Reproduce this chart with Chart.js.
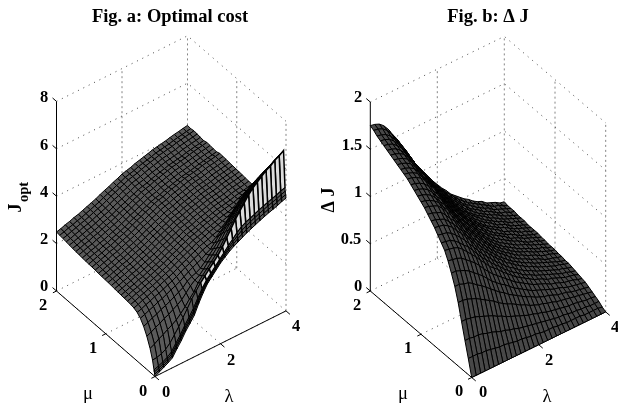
<!DOCTYPE html>
<html><head><meta charset="utf-8">
<style>html,body{margin:0;padding:0;background:#fff;overflow:hidden;width:618px;height:407px}canvas{position:absolute;top:0}</style>
<script src="https://cdn.jsdelivr.net/npm/chart.js@4"></script></head>
<body><canvas id="a" width="340" height="407" style="left:0"></canvas><canvas id="b" width="336" height="407" style="left:320px"></canvas>
<script>
const lambdaTicks=[0,2,4];
const muTicks=[0,1,2];
const zTicksA=[0,2,4,6,8];
const zTicksB=[0,0.5,1,1.5,2];
const lambdaGrid=[0,.133,.267,.4,.533,.667,.8,.933,1.067,1.2,1.333,1.467,1.6,1.733,1.867,2,2.133,2.267,2.4,2.533,2.667,2.8,2.933,3.067,3.2,3.333,3.467,3.6,3.733,3.867,4];
const muGridA=[0,.007,.013,.02,.05,.1,.166,.231,.297,.362,.428,.493,.559,.624,.69,.755,.821,.886,.952,1.017,1.083,1.148,1.214,1.279,1.345,1.41,1.476,1.541,1.607,1.672,1.738,1.803,1.869,1.934,2];
const muGridB=[0,.067,.133,.2,.267,.333,.4,.467,.533,.6,.667,.733,.8,.867,.933,1,1.067,1.133,1.2,1.267,1.333,1.4,1.467,1.533,1.6,1.667,1.733,1.8,1.867,1.933,2];
const J_opt=[
[0,.1,.2,.3,.42,.7,.95,1.25,1.5,1.75,2.15,2.5,2.8,3.0,3.2,3.4,3.55,3.7,3.82,3.92,4.02,4.12,4.2,4.28,4.36,4.43,4.5,4.56,4.62,4.7,4.76],
[.08,.17,.26,.36,.49,.77,1.02,1.32,1.57,1.83,2.21,2.55,2.83,3.03,3.23,3.43,3.6,3.77,3.91,4.04,4.15,4.25,4.33,4.41,4.49,4.56,4.63,4.69,4.75,4.83,4.89],
[.16,.24,.33,.43,.56,.83,1.08,1.38,1.64,1.91,2.27,2.59,2.87,3.07,3.27,3.47,3.64,3.83,4.0,4.15,4.29,4.39,4.47,4.55,4.63,4.7,4.77,4.83,4.89,4.97,5.03],
[.24,.31,.39,.49,.63,.9,1.15,1.45,1.72,1.99,2.33,2.64,2.9,3.1,3.3,3.5,3.69,3.9,4.08,4.27,4.42,4.52,4.6,4.68,4.76,4.83,4.9,4.96,5.02,5.1,5.16],
[.6,.62,.68,.78,.95,1.2,1.45,1.75,2.05,2.35,2.6,2.85,3.05,3.25,3.45,3.65,3.9,4.2,4.5,4.8,5.05,5.3,5.55,5.75,5.9,6.05,6.2,6.3,6.45,6.55,6.68],
[1.0,1.09,1.22,1.31,1.43,1.53,1.65,1.82,2.02,2.25,2.45,2.75,2.97,3.16,3.36,3.56,3.79,4.07,4.35,4.62,4.86,5.10,5.34,5.54,5.69,5.84,6.0,6.10,6.25,6.35,6.48],
[1.4,1.48,1.59,1.67,1.78,1.86,1.97,2.08,2.2,2.4,2.6,2.75,2.85,3.03,3.24,3.44,3.64,3.89,4.15,4.39,4.61,4.84,5.06,5.26,5.42,5.57,5.73,5.84,5.98,6.09,6.21],
[1.7,1.77,1.87,1.94,2.04,2.11,2.2,2.3,2.4,2.5,2.68,2.78,2.85,2.95,3.12,3.32,3.5,3.71,3.95,4.16,4.37,4.58,4.79,4.98,5.14,5.30,5.46,5.58,5.72,5.83,5.95],
[1.92,1.99,2.07,2.14,2.23,2.29,2.38,2.47,2.55,2.64,2.75,2.86,2.96,3.05,3.13,3.25,3.35,3.54,3.74,3.93,4.12,4.31,4.52,4.70,4.87,5.03,5.19,5.32,5.45,5.56,5.68],
[2.05,2.11,2.19,2.26,2.34,2.40,2.48,2.56,2.64,2.73,2.83,2.93,3.01,3.12,3.20,3.30,3.37,3.42,3.55,3.70,3.87,4.05,4.24,4.43,4.60,4.76,4.92,5.06,5.19,5.30,5.42],
[2.12,2.18,2.26,2.32,2.40,2.46,2.54,2.62,2.69,2.77,2.87,2.97,3.05,3.15,3.23,3.33,3.39,3.45,3.53,3.59,3.66,3.79,3.97,4.15,4.32,4.49,4.65,4.80,4.93,5.04,5.16],
[2.15,2.21,2.29,2.35,2.42,2.48,2.56,2.64,2.72,2.79,2.89,2.99,3.07,3.16,3.24,3.34,3.40,3.47,3.55,3.61,3.67,3.73,3.80,3.88,4.05,4.22,4.39,4.54,4.66,4.78,4.89],
[2.17,2.23,2.31,2.36,2.44,2.50,2.58,2.65,2.73,2.81,2.90,3.0,3.08,3.17,3.25,3.35,3.40,3.46,3.54,3.60,3.66,3.72,3.77,3.81,3.87,3.97,4.12,4.28,4.40,4.51,4.63],
[2.18,2.24,2.32,2.37,2.45,2.51,2.59,2.67,2.74,2.82,2.92,3.01,3.09,3.19,3.27,3.36,3.42,3.48,3.56,3.62,3.67,3.73,3.79,3.83,3.87,3.91,3.97,4.04,4.14,4.25,4.37],
[2.19,2.25,2.32,2.38,2.46,2.51,2.59,2.67,2.74,2.82,2.92,3.01,3.09,3.18,3.26,3.36,3.41,3.47,3.55,3.60,3.66,3.72,3.78,3.81,3.85,3.89,3.95,3.99,4.02,4.06,4.10],
[2.21,2.27,2.34,2.40,2.48,2.53,2.61,2.69,2.76,2.84,2.93,3.03,3.10,3.20,3.27,3.37,3.43,3.48,3.56,3.62,3.67,3.73,3.79,3.83,3.86,3.90,3.96,4.00,4.03,4.07,4.11],
[2.22,2.28,2.35,2.41,2.49,2.54,2.62,2.70,2.77,2.85,2.94,3.04,3.11,3.21,3.28,3.38,3.44,3.49,3.57,3.63,3.68,3.74,3.80,3.84,3.87,3.91,3.97,4.01,4.04,4.08,4.12],
[2.24,2.30,2.37,2.43,2.51,2.56,2.64,2.72,2.79,2.87,2.96,3.06,3.13,3.23,3.30,3.40,3.46,3.51,3.59,3.65,3.70,3.76,3.82,3.86,3.89,3.93,3.99,4.03,4.06,4.10,4.14],
[2.25,2.31,2.38,2.44,2.52,2.57,2.65,2.73,2.80,2.88,2.97,3.07,3.14,3.24,3.31,3.41,3.47,3.52,3.60,3.66,3.71,3.77,3.83,3.87,3.90,3.94,4.00,4.04,4.07,4.11,4.15],
[2.26,2.32,2.39,2.45,2.53,2.58,2.66,2.74,2.81,2.89,2.98,3.08,3.15,3.25,3.32,3.42,3.48,3.53,3.61,3.67,3.72,3.78,3.84,3.88,3.91,3.95,4.01,4.05,4.08,4.12,4.16],
[2.27,2.33,2.40,2.46,2.54,2.59,2.67,2.75,2.82,2.90,2.99,3.09,3.16,3.26,3.33,3.43,3.49,3.54,3.62,3.68,3.73,3.79,3.85,3.89,3.92,3.96,4.02,4.06,4.09,4.13,4.17],
[2.28,2.34,2.41,2.47,2.55,2.60,2.68,2.76,2.83,2.91,3.00,3.10,3.17,3.27,3.34,3.44,3.50,3.55,3.63,3.69,3.74,3.80,3.86,3.90,3.93,3.97,4.03,4.07,4.10,4.14,4.18],
[2.30,2.36,2.43,2.49,2.57,2.62,2.70,2.78,2.85,2.93,3.02,3.12,3.19,3.29,3.36,3.46,3.52,3.57,3.65,3.71,3.76,3.82,3.88,3.92,3.95,3.99,4.05,4.09,4.12,4.16,4.20],
[2.31,2.37,2.44,2.50,2.58,2.63,2.71,2.79,2.86,2.94,3.03,3.13,3.20,3.30,3.37,3.47,3.53,3.58,3.66,3.72,3.77,3.83,3.89,3.93,3.96,4.00,4.06,4.10,4.13,4.17,4.21],
[2.32,2.38,2.45,2.51,2.59,2.64,2.72,2.80,2.87,2.95,3.04,3.14,3.21,3.31,3.38,3.48,3.54,3.59,3.67,3.73,3.78,3.84,3.90,3.94,3.97,4.01,4.07,4.11,4.14,4.18,4.22],
[2.33,2.39,2.46,2.51,2.59,2.64,2.72,2.79,2.86,2.94,3.03,3.12,3.19,3.29,3.36,3.45,3.51,3.56,3.64,3.69,3.75,3.80,3.86,3.89,3.93,3.97,4.02,4.06,4.10,4.13,4.17],
[2.34,2.40,2.47,2.52,2.60,2.65,2.73,2.80,2.87,2.95,3.04,3.13,3.20,3.30,3.37,3.46,3.52,3.57,3.65,3.70,3.76,3.81,3.87,3.90,3.94,3.98,4.03,4.07,4.11,4.14,4.18],
[2.36,2.42,2.49,2.54,2.62,2.67,2.75,2.82,2.89,2.97,3.06,3.15,3.22,3.32,3.39,3.48,3.54,3.59,3.67,3.72,3.78,3.83,3.89,3.92,3.96,4.00,4.05,4.09,4.13,4.16,4.20],
[2.37,2.43,2.50,2.55,2.63,2.68,2.76,2.83,2.90,2.98,3.07,3.16,3.23,3.33,3.40,3.49,3.55,3.60,3.68,3.73,3.79,3.84,3.90,3.93,3.97,4.01,4.06,4.10,4.14,4.17,4.21],
[2.39,2.44,2.51,2.57,2.64,2.69,2.76,2.84,2.91,2.98,3.07,3.16,3.23,3.32,3.39,3.48,3.53,3.58,3.65,3.71,3.76,3.81,3.87,3.90,3.94,3.97,4.03,4.06,4.10,4.13,4.17],
[2.41,2.46,2.53,2.59,2.66,2.71,2.78,2.86,2.93,3.00,3.09,3.18,3.25,3.34,3.41,3.50,3.55,3.60,3.67,3.73,3.78,3.83,3.89,3.92,3.96,3.99,4.05,4.08,4.12,4.15,4.19],
[2.43,2.48,2.55,2.61,2.68,2.73,2.80,2.88,2.95,3.02,3.11,3.20,3.27,3.36,3.43,3.52,3.57,3.62,3.69,3.75,3.80,3.85,3.91,3.94,3.98,4.01,4.07,4.10,4.14,4.17,4.21],
[2.45,2.50,2.57,2.63,2.70,2.75,2.82,2.90,2.97,3.04,3.13,3.22,3.29,3.38,3.45,3.54,3.59,3.64,3.71,3.77,3.82,3.87,3.93,3.96,4.00,4.03,4.09,4.12,4.16,4.19,4.23],
[2.47,2.52,2.59,2.64,2.71,2.76,2.83,2.90,2.97,3.04,3.13,3.21,3.28,3.37,3.44,3.53,3.58,3.63,3.70,3.75,3.80,3.85,3.91,3.94,3.98,4.01,4.06,4.10,4.13,4.17,4.20],
[2.49,2.54,2.61,2.66,2.73,2.78,2.85,2.92,2.99,3.06,3.15,3.23,3.30,3.39,3.46,3.55,3.60,3.65,3.72,3.77,3.82,3.87,3.93,3.96,4.00,4.03,4.08,4.12,4.15,4.19,4.22]
];
const delta_J=[
[0,0,0,0,0,0,0,0,0,0,0,0,0,0,0,0,0,0,0,0,0,0,0,0,0,0,0,0,0,0,0],
[.17,.17,.17,.16,.16,.15,.14,.13,.13,.12,.11,.10,.10,.09,.08,.08,.07,.06,.06,.06,.05,.05,.04,.04,.04,.04,.03,.03,.03,.03,.02],
[.33,.33,.32,.32,.31,.29,.28,.26,.24,.23,.21,.20,.18,.17,.16,.15,.14,.13,.12,.11,.10,.09,.09,.08,.07,.07,.06,.06,.05,.05,.05],
[.50,.50,.49,.48,.46,.44,.42,.40,.37,.35,.32,.30,.28,.26,.24,.22,.21,.19,.18,.16,.15,.14,.13,.12,.11,.11,.10,.09,.08,.08,.07],
[.67,.67,.66,.64,.62,.59,.56,.53,.50,.46,.43,.40,.38,.35,.32,.30,.27,.25,.23,.22,.20,.19,.17,.16,.15,.14,.13,.12,.11,.10,.09],
[.81,.81,.79,.78,.75,.71,.68,.64,.60,.56,.52,.49,.45,.42,.39,.36,.33,.31,.28,.26,.24,.23,.21,.19,.18,.17,.15,.14,.13,.12,.11],
[.92,.92,.90,.88,.85,.81,.77,.73,.68,.63,.59,.55,.52,.48,.44,.41,.38,.35,.32,.30,.28,.26,.24,.22,.21,.19,.17,.16,.15,.14,.13],
[1.02,1.01,1.00,.98,.94,.90,.86,.81,.75,.70,.65,.61,.57,.53,.49,.45,.42,.39,.36,.33,.31,.29,.27,.24,.23,.21,.19,.18,.17,.15,.14],
[1.10,1.09,1.08,1.06,1.02,.97,.92,.87,.81,.76,.70,.66,.62,.57,.53,.49,.45,.42,.39,.36,.33,.31,.29,.26,.25,.23,.21,.19,.18,.17,.15],
[1.15,1.14,1.13,1.10,1.06,1.01,.97,.91,.85,.79,.74,.69,.64,.60,.55,.51,.47,.44,.40,.37,.35,.32,.30,.28,.26,.24,.22,.20,.19,.17,.16],
[1.20,1.19,1.18,1.15,1.11,1.06,1.01,.95,.89,.83,.77,.72,.67,.62,.58,.53,.49,.46,.42,.39,.36,.34,.31,.29,.27,.25,.23,.21,.20,.18,.17],
[1.25,1.24,1.23,1.20,1.16,1.10,1.05,.99,.93,.86,.80,.75,.70,.65,.60,.56,.51,.48,.44,.41,.38,.35,.33,.30,.28,.26,.24,.22,.21,.19,.18],
[1.29,1.28,1.26,1.24,1.19,1.14,1.08,1.02,.95,.89,.83,.77,.72,.67,.62,.57,.53,.49,.45,.42,.39,.36,.34,.31,.29,.27,.25,.23,.21,.19,.18],
[1.33,1.32,1.30,1.28,1.23,1.17,1.12,1.05,.98,.92,.85,.80,.74,.69,.64,.59,.55,.51,.47,.43,.40,.37,.35,.32,.30,.28,.25,.23,.22,.20,.19],
[1.37,1.36,1.34,1.32,1.27,1.21,1.15,1.08,1.01,.95,.88,.82,.77,.71,.66,.61,.56,.52,.48,.45,.41,.38,.36,.33,.31,.29,.26,.24,.23,.21,.19],
[1.40,1.39,1.37,1.34,1.30,1.23,1.18,1.11,1.04,.97,.90,.84,.78,.73,.67,.62,.57,.53,.49,.46,.42,.39,.36,.34,.32,.29,.27,.25,.23,.21,.20],
[1.43,1.42,1.40,1.37,1.32,1.26,1.20,1.13,1.06,.99,.92,.86,.80,.74,.69,.64,.59,.54,.50,.46,.43,.40,.37,.34,.32,.30,.27,.25,.24,.21,.20],
[1.46,1.45,1.43,1.40,1.35,1.28,1.23,1.15,1.08,1.01,.93,.88,.82,.76,.70,.65,.60,.55,.51,.47,.44,.41,.38,.35,.33,.31,.28,.26,.24,.22,.20],
[1.49,1.48,1.46,1.43,1.38,1.31,1.25,1.18,1.10,1.03,.95,.89,.83,.77,.72,.66,.61,.57,.52,.48,.45,.42,.39,.36,.34,.31,.28,.26,.25,.22,.21],
[1.52,1.51,1.49,1.46,1.41,1.34,1.28,1.20,1.12,1.05,.97,.91,.85,.79,.73,.68,.62,.58,.53,.49,.46,.43,.40,.36,.34,.32,.29,.27,.25,.23,.21],
[1.54,1.53,1.51,1.48,1.42,1.36,1.29,1.22,1.14,1.06,.99,.92,.86,.80,.74,.69,.63,.59,.54,.50,.46,.43,.40,.37,.35,.32,.29,.27,.25,.23,.22],
[1.56,1.55,1.53,1.50,1.44,1.37,1.31,1.23,1.15,1.08,1.00,.94,.87,.81,.75,.69,.64,.59,.55,.51,.47,.44,.41,.37,.35,.33,.30,.27,.26,.23,.22],
[1.58,1.57,1.55,1.52,1.46,1.39,1.33,1.25,1.17,1.09,1.01,.95,.88,.82,.76,.70,.65,.60,.55,.51,.47,.44,.41,.38,.36,.33,.30,.28,.26,.24,.22],
[1.60,1.59,1.57,1.54,1.48,1.41,1.34,1.26,1.18,1.10,1.02,.96,.90,.83,.77,.71,.66,.61,.56,.52,.48,.45,.42,.38,.36,.34,.30,.28,.26,.24,.22],
[1.62,1.61,1.59,1.56,1.50,1.43,1.36,1.28,1.20,1.12,1.04,.97,.91,.84,.78,.72,.66,.62,.57,.53,.49,.45,.42,.39,.36,.34,.31,.28,.27,.24,.23],
[1.64,1.63,1.61,1.57,1.52,1.44,1.38,1.30,1.21,1.13,1.05,.98,.92,.85,.79,.73,.67,.62,.57,.53,.49,.46,.43,.39,.37,.34,.31,.29,.27,.25,.23],
[1.66,1.65,1.63,1.59,1.54,1.46,1.39,1.31,1.23,1.15,1.06,1.00,.93,.86,.80,.74,.68,.63,.58,.54,.50,.46,.43,.40,.37,.35,.32,.29,.27,.25,.23],
[1.68,1.67,1.65,1.61,1.55,1.48,1.41,1.33,1.24,1.16,1.08,1.01,.94,.87,.81,.75,.69,.64,.59,.55,.50,.47,.44,.40,.38,.35,.32,.29,.28,.25,.24],
[1.70,1.69,1.67,1.63,1.57,1.50,1.43,1.34,1.26,1.17,1.09,1.02,.95,.88,.82,.76,.70,.65,.60,.55,.51,.48,.44,.41,.38,.36,.32,.30,.28,.26,.24],
[1.73,1.72,1.70,1.66,1.60,1.52,1.45,1.37,1.28,1.19,1.11,1.04,.97,.90,.83,.77,.71,.66,.61,.56,.52,.48,.45,.42,.39,.36,.33,.30,.29,.26,.24],
[1.75,1.74,1.72,1.68,1.62,1.54,1.47,1.38,1.30,1.21,1.12,1.05,.98,.91,.84,.78,.72,.67,.61,.57,.53,.49,.46,.42,.39,.37,.33,.31,.29,.26,.25]
];

const SERIF='"Liberation Serif","Times New Roman",serif';
const BOLD16='bold 16.5px '+SERIF, SYM='18.5px '+SERIF, BOLD18='bold 18px '+SERIF, SUB='bold 14.5px '+SERIF;

function panel(id,cfg){
  const P=(l,m,z)=>({x:cfg.x0+cfg.xl*l+cfg.xm*m, y:cfg.y0+cfg.yl*l+cfg.ym*m-cfg.zs*z});
  const ds=[];
  const base={showLine:true,pointRadius:0,tension:0,clip:false};
  const line=(pts,o)=>ds.push(Object.assign({},base,{data:pts,fill:false,borderColor:'#000',borderWidth:1},o));
  // mesh: first dataset is painted last, so near cells go first
  for(let i=0;i<cfg.mu.length-1;i++)for(let j=0;j<lambdaGrid.length-1;j++){
    const a=P(lambdaGrid[j],cfg.mu[i],cfg.z[i][j]),b=P(lambdaGrid[j+1],cfg.mu[i],cfg.z[i][j+1]),
          c=P(lambdaGrid[j+1],cfg.mu[i+1],cfg.z[i+1][j+1]),d=P(lambdaGrid[j],cfg.mu[i+1],cfg.z[i+1][j]);
    const wall=i===cfg.wallRow&&j>=cfg.wallFrom;
    ds.push(Object.assign({},base,{data:[a,b,c,d,a],fill:'shape',backgroundColor:wall?'#dcdcdc':cfg.face,borderColor:'#000',borderWidth:wall?1.5:cfg.lw}));
  }
  const L=4,M=2,zs=cfg.zTicks,Z=zs[zs.length-1];
  // solid axes and tick marks
  line([P(0,M,0),P(0,M,Z)]); line([P(0,M,0),P(0,0,0)]); line([P(0,0,0),P(L,0,0)]);
  zs.forEach(z=>line([P(0,M,z),P(0,M+.08,z)]));
  lambdaTicks.forEach(l=>line([P(l,0,0),P(l,-.08,0)]));
  muTicks.forEach(m=>line([P(0,m,0),P(-.11,m,0)]));
  // dotted box
  const dot={borderColor:'#333',borderWidth:.9,borderDash:[1,5]};
  const vert={borderColor:'#777',borderWidth:.9,borderDash:[2,3]};
  zs.forEach(z=>line([P(0,M,z),P(L,M,z),P(L,0,z)],dot));
  lambdaTicks.slice(0,-1).forEach(l=>line([P(l,0,0),P(l,M,0)],dot));
  muTicks.slice(0,-1).forEach(m=>line([P(0,m,0),P(L,m,0)],dot));
  lambdaTicks.slice(1).forEach(l=>line([P(l,M,0),P(l,M,Z)],vert));
  muTicks.slice(0,-1).forEach(m=>line([P(L,m,0),P(L,m,Z)],vert));
  const textPlugin={id:'axisText',afterDraw(ch){
    const c=ch.ctx,sx=ch.scales.x,sy=ch.scales.y;
    c.save();c.fillStyle='#000';c.textBaseline='middle';c.textAlign='center';
    cfg.labels.forEach(t=>{
      c.save();c.font=t.font||BOLD16;c.translate(sx.getPixelForValue(t.x),sy.getPixelForValue(t.y));
      if(t.rot){c.rotate(-Math.PI/2);c.textBaseline='alphabetic';}
      c.fillText(t.text,0,0);c.restore();
    });
    c.restore();
  }};
  new Chart(document.getElementById(id),{type:'scatter',data:{datasets:ds},plugins:[textPlugin],options:{
    responsive:false,animation:false,parsing:false,events:[],
    layout:{padding:0},
    plugins:{legend:{display:false},tooltip:{enabled:false},
      title:{display:true,text:cfg.title,color:'#000',font:{family:SERIF,size:18.5,weight:'bold',lineHeight:1},padding:{top:8,bottom:.5}}},
    scales:{x:{type:'linear',display:false,min:cfg.xmin,max:cfg.xmax},
            y:{type:'linear',display:false,reverse:true,min:27,max:407}}
  }});
}
const zLabelsA=['0','2','4','6','8'], zLabelsB=['0','0.5','1','1.5','2'];
const tickText=(arr,pos)=>arr.map((text,i)=>({text,x:pos[i][0],y:pos[i][1]}));
panel('a',{title:'Fig. a: Optimal cost',x0:155,y0:376.5,xl:32.75,yl:-16.4,xm:-49.25,ym:-42.75,zs:23.7,
  mu:muGridA,z:J_opt,zTicks:zTicksA,lw:1,face:'#5a5a5a',wallRow:3,wallFrom:11,xmin:0,xmax:340,
  labels:[...tickText(zLabelsA,[[44,287],[44,240],[44,193],[44,146],[44,98]]),
    ...tickText(muTicks.map(String),[[143,392],[93,349],[43,306]]),
    ...tickText(lambdaTicks.map(String),[[166,393],[231,361],[296,327]]),
    {text:'μ',x:88,y:394,font:SYM},{text:'λ',x:229,y:397,font:SYM},
    {text:'J',x:21,y:208,font:BOLD18,rot:true},{text:'opt',x:28,y:192,font:SUB,rot:true}]});
panel('b',{title:'Fig. b: Δ J',x0:471.7,y0:377.5,xl:33.5,yl:-16.4,xm:-50.7,ym:-43.25,zs:94.5,
  mu:muGridB,z:delta_J,zTicks:zTicksB,lw:1,face:'#484848',wallRow:-1,wallFrom:0,xmin:320,xmax:656,
  labels:[...tickText(zLabelsB,[[358,287],[351,240],[358,193],[352,146],[358,98]]),
    ...tickText(muTicks.map(String),[[459,392],[408,349],[357,306]]),
    ...tickText(lambdaTicks.map(String),[[483,393],[549,361],[615,328]]),
    {text:'μ',x:403,y:394,font:SYM},{text:'λ',x:547,y:397,font:SYM},
    {text:'Δ J',x:334,y:200,font:BOLD18,rot:true}]});
</script></body></html>
